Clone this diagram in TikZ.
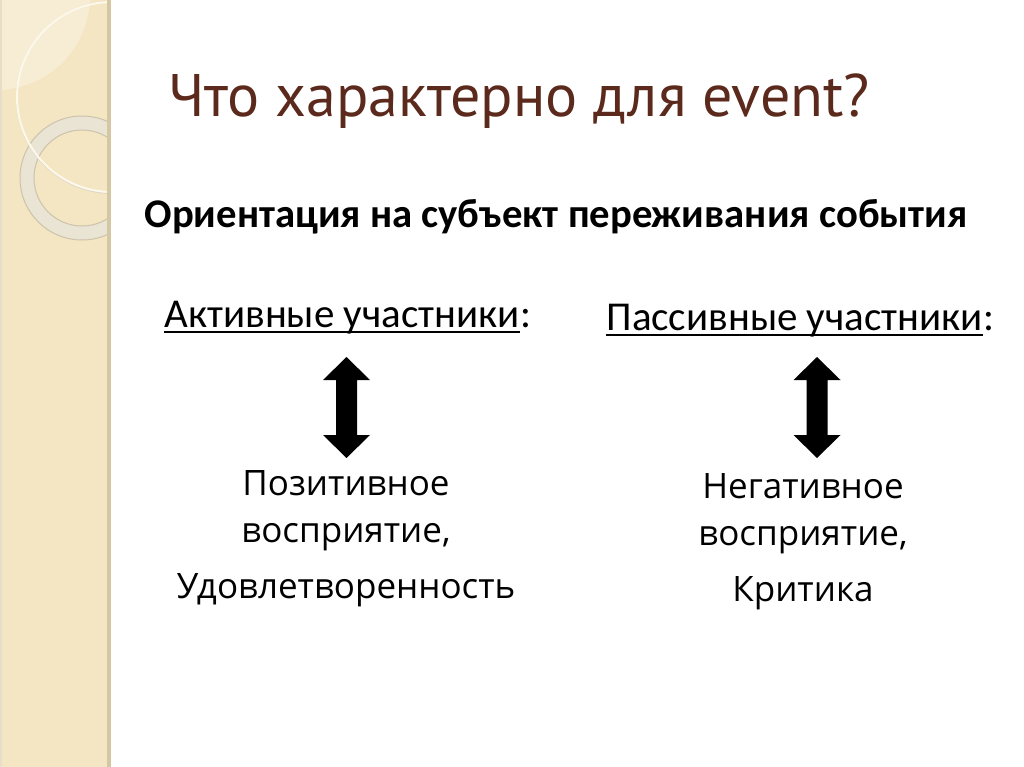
\documentclass[tikz,border=0pt]{standalone}
\usepackage{fontspec}
\setmainfont{Carlito}
\newfontfamily\titlefont{PT Sans}
\newfontfamily\bodyfont{Open Sans}
\definecolor{strip}{RGB}{244,230,194}
\definecolor{stripLight}{RGB}{247,237,212}
\definecolor{stripEdge}{RGB}{214,199,163}
\definecolor{ringFill}{RGB}{234,228,212}
\definecolor{ringLine}{RGB}{205,195,172}
\definecolor{creamLine}{RGB}{252,248,236}
\definecolor{titleBrown}{RGB}{92,42,28}
\tikzset{
  titletext/.style={anchor=base, inner sep=0pt, text=titleBrown, font=\titlefont\fontsize{60}{70}\selectfont},
  subtext/.style={anchor=base, inner sep=0pt, font=\bfseries\fontsize{40.7}{46}\selectfont},
  headtext/.style={anchor=base, inner sep=0pt, font=\fontsize{41}{46}\selectfont},
  bodytext/.style={anchor=base, inner sep=0pt, font=\bodyfont\fontsize{35}{40}\selectfont},
  underl/.style={line width=2.5pt},
  blockarrow/.style={fill=black},
}
\newcommand{\dblarrow}[3]{% center x, top y, bottom y
  \fill[blockarrow] (#1,#2) -- (#1+23.5,#2+23) -- (#1+10.5,#2+23) -- (#1+10.5,#3-23) -- (#1+23.5,#3-23)
    -- (#1,#3) -- (#1-23.5,#3-23) -- (#1-10.5,#3-23) -- (#1-10.5,#2+23) -- (#1-23.5,#2+23) -- cycle;}
\begin{document}
\begin{tikzpicture}[x=1pt,y=-1pt]
\useasboundingbox (0,0) rectangle (1024,767);
\fill[white] (0,0) rectangle (1024,767);
% decorative strip
\begin{scope}
  \clip (0,0) rectangle (110,767);
  \fill[strip] (0,0) rectangle (110,767);
  \fill[stripLight] (-4,-4) circle (94pt);
  \fill[ringFill, even odd rule] (82,178) circle (62pt) (82,178) circle (48pt);
  \draw[ringLine, line width=1pt] (82,178) circle (62pt) (82,178) circle (48pt);
  \draw[ringLine!70, line width=1pt] (112.5,97.5) circle (96pt);
  \draw[creamLine, line width=2pt] (112,97) circle (95pt);
\end{scope}
\fill[stripEdge] (107,0) rectangle (111,767);
\fill[stripEdge!60] (0,0) rectangle (1.5,767);
% title
\node[titletext] (title) at (519,117) {Что характерно для event?};
% subtitle
\node[subtext] (sub) at (556,228) {Ориентация на субъект переживания события};
% headers
\node[headtext, anchor=base east] (act) at (520,327) {Активные участники};
\node[headtext, anchor=base west] (actc) at (act.base east) {:};
\draw[underl] ([yshift=-5pt]act.base west) -- ([yshift=-5pt]act.base east);
\node[headtext, anchor=base east] (pas) at (983,330) {Пассивные участники};
\node[headtext, anchor=base west] (pasc) at (pas.base east) {:};
\draw[underl] ([yshift=-5pt]pas.base west) -- ([yshift=-5pt]pas.base east);
% arrows
\dblarrow{346.5}{357}{458}
\dblarrow{817}{357}{458}
% bodies
\node[bodytext] (l1) at (346,495) {Позитивное};
\node[bodytext] (l2) at (346,542) {восприятие,};
\node[bodytext] (l3) at (346,598) {Удовлетворенность};
\node[bodytext] (r1) at (803,498) {Негативное};
\node[bodytext] (r2) at (803,545) {восприятие,};
\node[bodytext] (r3) at (803,601) {Критика};
\end{tikzpicture}
\end{document}
